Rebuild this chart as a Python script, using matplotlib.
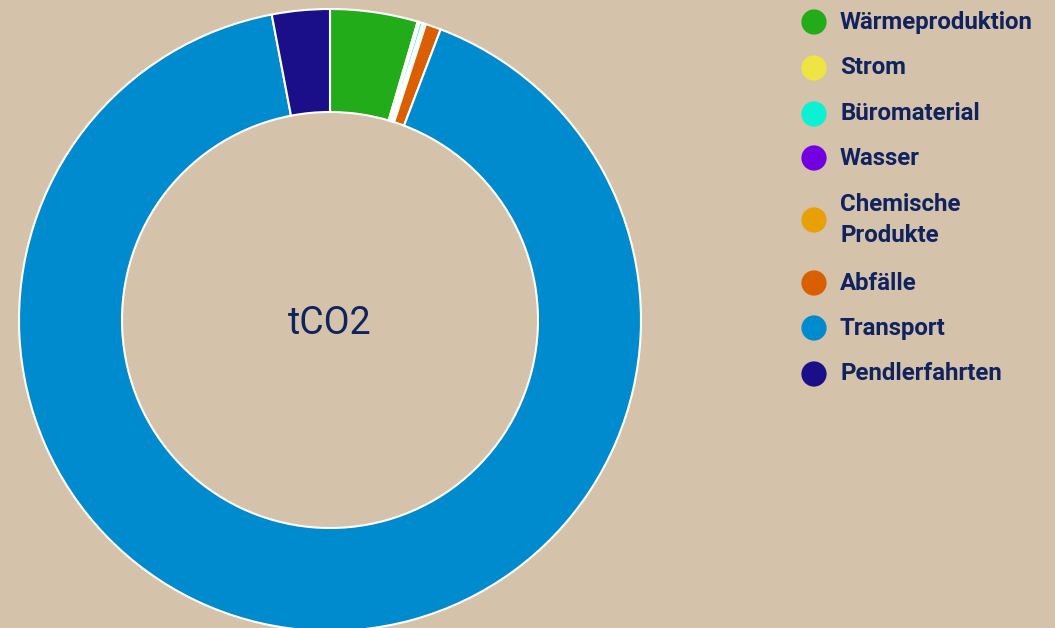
import matplotlib
matplotlib.use("Agg")
import matplotlib.pyplot as plt

categories = ["Wärmeproduktion", "Strom", "Büromaterial", "Wasser",
              "Chemische\nProdukte", "Abfälle", "Transport", "Pendlerfahrten"]
values = [4.55, 0.12, 0.15, 0.05, 0.12, 0.8, 91.21, 3.0]
colors = ["#22AC1A", "#F0E442", "#0CF0D4", "#7300E0",
          "#E8A006", "#D95F02", "#008BCF", "#1A0F88"]
center_label = "tCO2"

BG = "#D4C2AA"
TXT = "#10235E"

fig = plt.figure(figsize=(10.55, 6.28), dpi=100, facecolor=BG)
W, H = 1055, 628
cx, cy, r = 330, 320, 311
ax = fig.add_axes([(cx - r) / W, (H - cy - r) / H, 2 * r / W, 2 * r / H])
ax.set_facecolor(BG)
ax.pie(values, colors=colors, startangle=90, counterclock=False, radius=1.0,
       wedgeprops=dict(width=1 - 208 / 311, edgecolor="white", linewidth=1.5))
ax.set_xlim(-1, 1)
ax.set_ylim(-1, 1)
ax.set_aspect("equal")
ax.axis("off")
ax.text(0, -0.01, center_label, ha="center", va="center", fontsize=27,
        color=TXT, family="Roboto")

# legend
ys = [22, 68, 114, 158, 220, 283, 328, 374]
for lab, y in zip(categories, ys):
    fig.text(840 / W, 1 - y / H, lab, ha="left", va="center", fontsize=17.3,
             color=TXT, family="Roboto", fontweight="semibold", linespacing=1.45)
lax = fig.add_axes([0, 0, 1, 1], facecolor="none")
lax.set_xlim(0, W)
lax.set_ylim(H, 0)
lax.axis("off")
lax.scatter([814] * len(ys), ys, s=330, c=colors, zorder=3, linewidths=0)

fig.savefig("out.png", dpi=100, facecolor=BG)
